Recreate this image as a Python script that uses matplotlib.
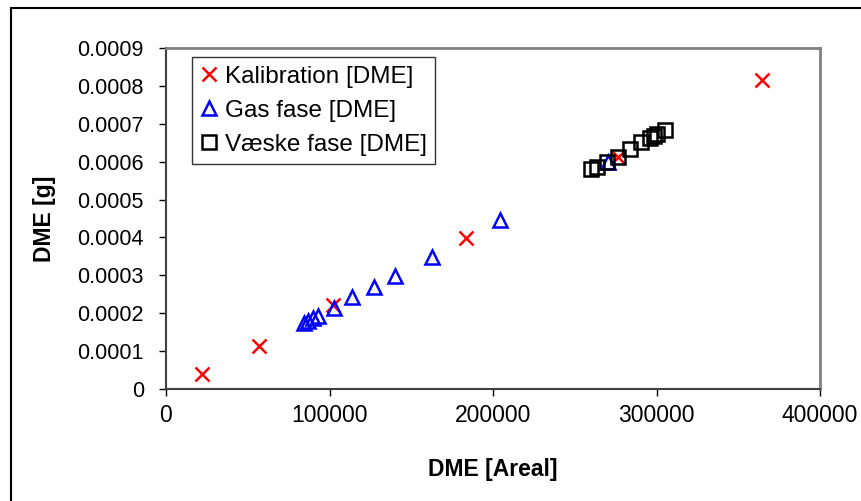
import matplotlib
matplotlib.use("Agg")
import matplotlib.pyplot as plt
from matplotlib.patches import Rectangle

plt.rcParams['font.family'] = ['Liberation Sans', 'DejaVu Sans']

# Calibration standards
kal_areal = [22000, 57000, 102000, 183500, 276500, 364500]
kal_dme = [0.00004, 0.000113, 0.000222, 0.000398, 0.000612, 0.000815]

# Gas phase samples
gas_areal = [84400, 86800, 89900, 93000, 102700, 113800, 127200, 140100, 162700, 204300, 270300]
gas_dme = [0.000174, 0.000179, 0.000187, 0.000193, 0.000214, 0.000243, 0.000269,
           0.000298, 0.000348, 0.000446, 0.000598]

# Liquid phase samples
vaeske_areal = [259900, 263600, 269700, 276400, 283800, 290500, 296000, 298500, 300300, 305200]
vaeske_dme = [0.000581, 0.000586, 0.000599, 0.000612, 0.000633, 0.000652, 0.000662,
              0.000668, 0.000673, 0.000684]

x_ticks = [0, 100000, 200000, 300000, 400000]
y_ticks = [0, 0.0001, 0.0002, 0.0003, 0.0004, 0.0005, 0.0006, 0.0007, 0.0008, 0.0009]
y_tick_labels = ['0', '0.0001', '0.0002', '0.0003', '0.0004', '0.0005', '0.0006',
                 '0.0007', '0.0008', '0.0009']

fig = plt.figure(figsize=(8.62, 5.01), dpi=100)
ax = fig.add_axes([166/862, 1 - 389/501, (820 - 166)/862, (389 - 48)/501])

ax.plot(kal_areal, kal_dme, linestyle='none', marker='x', color='#ff0000',
        markersize=10, markeredgewidth=1.8, label='Kalibration [DME]', zorder=3)
ax.plot(gas_areal, gas_dme, linestyle='none', marker='^', markerfacecolor='none',
        markeredgecolor='#0000ff', markersize=10, markeredgewidth=1.8,
        label='Gas fase [DME]', zorder=4)
ax.plot(vaeske_areal, vaeske_dme, linestyle='none', marker='s', markerfacecolor='none',
        markeredgecolor='#000000', markersize=10, markeredgewidth=1.8,
        label='Væske fase [DME]', zorder=5)

ax.set_xlim(0, 400000)
ax.set_ylim(0, 0.0009)
ax.set_xticks(x_ticks)
ax.set_xticklabels([str(v) for v in x_ticks])
ax.set_yticks(y_ticks)
ax.set_yticklabels(y_tick_labels)
ax.tick_params(axis='both', direction='out', length=5, width=1, colors='black')
ax.tick_params(axis='x', labelsize=16.5, pad=6)
ax.tick_params(axis='y', labelsize=15.5, pad=11)

for side in ('top', 'right'):
    ax.spines[side].set_color('#808080')
    ax.spines[side].set_linewidth(2)
for side in ('left', 'bottom'):
    ax.spines[side].set_color('#404040')
    ax.spines[side].set_linewidth(1.5)

ax.set_xlabel('DME [Areal]', fontsize=16.5, fontweight='bold', labelpad=22)
ax.set_ylabel('DME [g]', fontsize=16.5, fontweight='bold', labelpad=15)

leg = ax.legend(loc='upper left', bbox_to_anchor=(26/654, 1 - 9/341), fontsize=17.5,
                frameon=True, fancybox=False, handlelength=0.7, handletextpad=0.3,
                borderpad=0.35, labelspacing=0.5, borderaxespad=0)
leg.get_frame().set_edgecolor('black')
leg.get_frame().set_linewidth(1)

# Outer frame around the chart
fig.patches.append(Rectangle((11/862, -0.05), 1.1, 1 - 8/501 + 0.05,
                             transform=fig.transFigure, fill=False,
                             edgecolor='black', linewidth=1.5))

fig.savefig('out.png', dpi=100)
